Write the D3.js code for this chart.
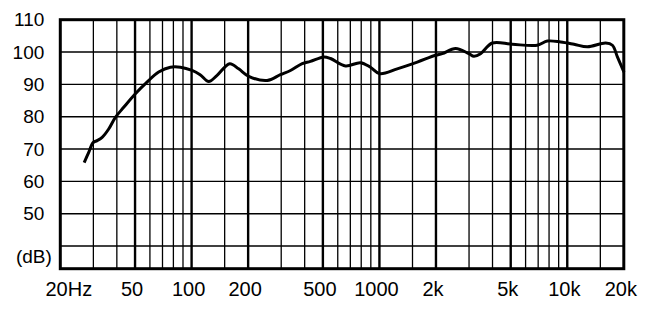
<!DOCTYPE html>
<html lang="en">
<head>
  <meta charset="utf-8">
  <title>Frequency Response</title>
  <script src="https://d3js.org/d3.v7.min.js"></script>
  <style>
    body {
      margin: 0;
      background: #fff;
    }
    svg {
      display: block;
    }
    .tick text {
      font-family: "Liberation Sans", Arial, Helvetica, sans-serif;
      fill: #000;
    }
  </style>
</head>
<body>
  <div id="chart"></div>
  <script>
    // Response curve (Hz, dB)
    const freqs = [26.8, 28.3, 29.9, 31.4, 33.4, 36.2, 39.3, 43.5, 50.2, 57.9, 66.8, 77.1, 87.2,
      100.6, 111, 123.4, 136.7, 159.6, 178, 201.5, 252.5, 297, 336, 388, 429, 506, 549, 660, 793,
      896, 1005, 1244, 1590, 1990, 2160, 2544, 2994, 3184, 3456, 3990, 5100, 6930, 7830, 9226,
      10860, 12800, 16020, 17390, 18490, 20050];
    const levels = [65.8, 68.9, 72.0, 72.6, 73.6, 76.2, 79.8, 82.9, 87.1, 90.7, 93.8, 95.3, 95.3,
      94.3, 93.0, 90.9, 92.8, 96.4, 94.8, 92.5, 91.2, 93.0, 94.3, 96.4, 97.1, 98.5, 98.0, 95.7, 96.7,
      95.3, 93.3, 94.8, 96.9, 99.0, 99.5, 101.1, 99.5, 98.7, 99.5, 102.8, 102.4, 102.1, 103.4, 103.1,
      102.4, 101.6, 102.8, 102.1, 98.5, 93.8];

    // Axis labels and grid
    const xTicks = [20, 50, 100, 200, 500, 1000, 2000, 5000, 10000, 20000];
    const xTickLabels = ["20Hz", "50", "100", "200", "500", "1000", "2k", "5k", "10k", "20k"];
    const xMinor = [30, 40, 60, 70, 80, 90, 150, 300, 400, 600, 700, 800, 900, 1500,
      3000, 4000, 6000, 7000, 8000, 9000, 15000];
    const yTicks = [110, 100, 90, 80, 70, 60, 50];
    const yGrid = [100, 90, 80, 70, 60, 50, 40];

    const W = 648, H = 325;
    const margin = { top: 19.7, left: 60.3, right: 24.2, bottom: 56.3 };
    const width = W - margin.left - margin.right;
    const height = H - margin.top - margin.bottom;

    const svg = d3.select("#chart").append("svg")
      .attr("width", W)
      .attr("height", H);

    const g = svg.append("g")
      .attr("transform", `translate(${margin.left},${margin.top})`);

    const x = d3.scaleLog().domain([20, 20000]).range([0, width]);
    const y = d3.scaleLinear().domain([33, 110]).range([height, 0]);

    // horizontal grid
    g.selectAll(".hgrid")
      .data(yGrid)
      .enter().append("line")
      .attr("class", "hgrid")
      .attr("x1", 0).attr("x2", width)
      .attr("y1", d => y(d)).attr("y2", d => y(d))
      .attr("stroke", "#000")
      .attr("stroke-width", 1.4);

    // minor vertical grid
    g.selectAll(".vminor")
      .data(xMinor)
      .enter().append("line")
      .attr("class", "vminor")
      .attr("x1", d => x(d)).attr("x2", d => x(d))
      .attr("y1", 0).attr("y2", height)
      .attr("stroke", "#000")
      .attr("stroke-width", 1.3);

    // major vertical grid
    g.selectAll(".vmajor")
      .data(xTicks.slice(1, -1))
      .enter().append("line")
      .attr("class", "vmajor")
      .attr("x1", d => x(d)).attr("x2", d => x(d))
      .attr("y1", 0).attr("y2", height)
      .attr("stroke", "#000")
      .attr("stroke-width", 2.4);

    // frame
    g.append("rect")
      .attr("width", width)
      .attr("height", height)
      .attr("fill", "none")
      .attr("stroke", "#000")
      .attr("stroke-width", 3);

    // curve
    const line = d3.line()
      .x((d, i) => x(freqs[i]))
      .y(d => y(d))
      .curve(d3.curveCatmullRom);

    g.append("path")
      .datum(levels)
      .attr("fill", "none")
      .attr("stroke", "#000")
      .attr("stroke-width", 3)
      .attr("stroke-linejoin", "round")
      .attr("stroke-linecap", "butt")
      .attr("d", line);

    // axes
    const xAxis = g.append("g")
      .attr("transform", `translate(0,${height})`)
      .call(d3.axisBottom(x)
        .tickValues(xTicks)
        .tickSize(0)
        .tickPadding(13)
        .tickFormat((d, i) => xTickLabels[i]));
    xAxis.select(".domain").remove();
    xAxis.selectAll("text")
      .style("font-size", "20px")
      .attr("dx", (d, i) => i === 0 ? 8 : -3.5);

    const yAxis = g.append("g")
      .call(d3.axisLeft(y)
        .tickValues(yTicks)
        .tickSize(0)
        .tickPadding(16));
    yAxis.select(".domain").remove();
    yAxis.selectAll("text")
      .style("font-size", "19px");

    // unit label in place of the 40 tick
    g.append("text")
      .attr("x", -8.5)
      .attr("y", 236.3)
      .attr("dy", "0.35em")
      .attr("text-anchor", "end")
      .style("font-family", "\"Liberation Sans\", Arial, Helvetica, sans-serif")
      .style("font-size", "19px")
      .text("(dB)");
  </script>
</body>
</html>
